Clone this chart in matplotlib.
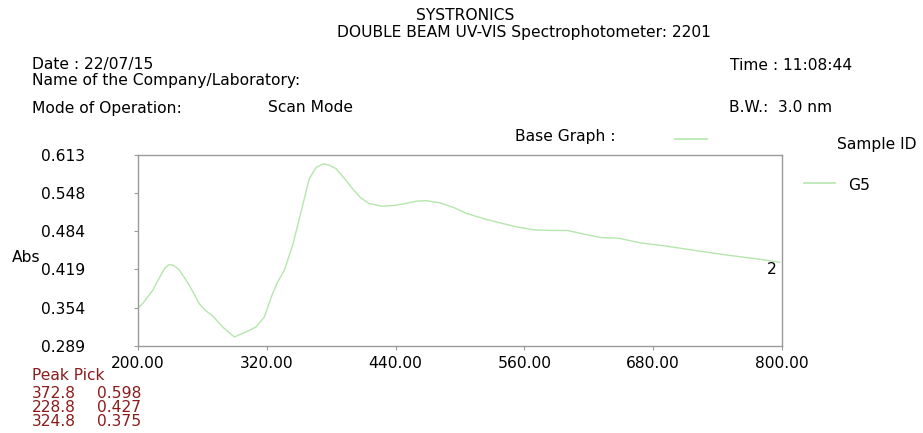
import matplotlib
matplotlib.use("Agg")
import matplotlib.pyplot as plt

# ===== DATA =====
wavelength = [200, 204.3, 213.7, 220, 225, 228.8, 233, 238.5, 247.8, 257.1,
              263, 269.6, 278.9, 289.7, 300.6, 309.9, 317.7, 324.8, 330, 336.3,
              344.1, 353.4, 359.6, 366, 372.8, 378, 384.5, 392, 400, 407,
              415.5, 428, 440.4, 450, 459, 468.3, 477.6, 481, 494, 506,
              522, 537, 553, 569, 585, 600, 615, 631, 646, 650,
              668, 690, 723, 750, 780, 798]
absorb = [0.3535, 0.3608, 0.3835, 0.405, 0.421, 0.427, 0.426, 0.418, 0.392, 0.3608,
          0.349, 0.3399, 0.3212, 0.3043, 0.3128, 0.3212, 0.3382, 0.375, 0.397, 0.4174,
          0.4598, 0.5277, 0.5728, 0.592, 0.598, 0.596, 0.5898, 0.574, 0.5558, 0.541,
          0.5304, 0.5260, 0.5277, 0.531, 0.5345, 0.5355, 0.5330, 0.532, 0.524, 0.514,
          0.505, 0.498, 0.491, 0.486, 0.485, 0.485, 0.479, 0.473, 0.472, 0.471,
          0.464, 0.459, 0.450, 0.443, 0.436, 0.431]

x_ticks = [200, 320, 440, 560, 680, 800]
y_ticks = [0.289, 0.354, 0.419, 0.484, 0.548, 0.613]

peak_wl = ["372.8", "228.8", "324.8"]
peak_abs = ["0.598", "0.427", "0.375"]

LINE_COLOR = "#b5e6ad"
SPINE_COLOR = "#9a9a9a"
PEAK_COLOR = "#8b1c1c"
FS = 11.2

plt.rcParams["font.family"] = ["DejaVu Sans"]

fig = plt.figure(figsize=(9.23, 4.33), dpi=100)
W, H = 923, 433
ax = fig.add_axes([138 / W, 1 - 346 / H, (782 - 138) / W, (346 - 155) / H])

ax.plot(wavelength, absorb, color=LINE_COLOR, lw=1.0)
ax.set_xlim(200, 800)
ax.set_ylim(0.289, 0.613)
ax.set_xticks(x_ticks)
ax.set_xticklabels([f"{v:.2f}" for v in x_ticks], fontsize=FS)
ax.set_yticks(y_ticks)
ax.set_yticklabels([f"{v:.3f}" for v in y_ticks], fontsize=FS)
ax.tick_params(axis="both", length=3, width=0.8, color=SPINE_COLOR)
ax.tick_params(axis="x", pad=4)
ax.tick_params(axis="y", pad=35)
for s in ax.spines.values():
    s.set_color(SPINE_COLOR)
    s.set_linewidth(1.0)

ax.text(795, absorb[-1], "2", fontsize=FS, ha="right", va="top")

# ===== HEADER =====
def txt(x, y, s, **kw):
    fig.text(x / W, 1 - y / H, s, fontsize=FS, va="center", **kw)

txt(465, 16, "SYSTRONICS", ha="center")
txt(524, 32, "DOUBLE BEAM UV-VIS Spectrophotometer: 2201", ha="center")
txt(32, 65, "Date : 22/07/15")
txt(32, 80, "Name of the Company/Laboratory:")
txt(32, 108, "Mode of Operation:")
txt(268, 108, "Scan Mode")
txt(730, 65, "Time : 11:08:44")
txt(729, 108, "B.W.:  3.0 nm")
txt(515, 136, "Base Graph :")
fig.add_artist(plt.Line2D([675 / W, 707 / W], [1 - 139 / H, 1 - 139 / H], color=LINE_COLOR, lw=1.2))
txt(837, 145, "Sample ID")
fig.add_artist(plt.Line2D([804 / W, 835 / W], [1 - 183 / H, 1 - 183 / H], color=LINE_COLOR, lw=1.2))
txt(848, 185, "G5")
txt(12, 257, "Abs")

# ===== PEAK PICK =====
txt(32, 376, "Peak Pick", color=PEAK_COLOR)
for i, (w, a) in enumerate(zip(peak_wl, peak_abs)):
    txt(32, 393 + 14 * i, w, color=PEAK_COLOR)
    txt(97, 393 + 14 * i, a, color=PEAK_COLOR)

fig.savefig("out.png", dpi=100)
